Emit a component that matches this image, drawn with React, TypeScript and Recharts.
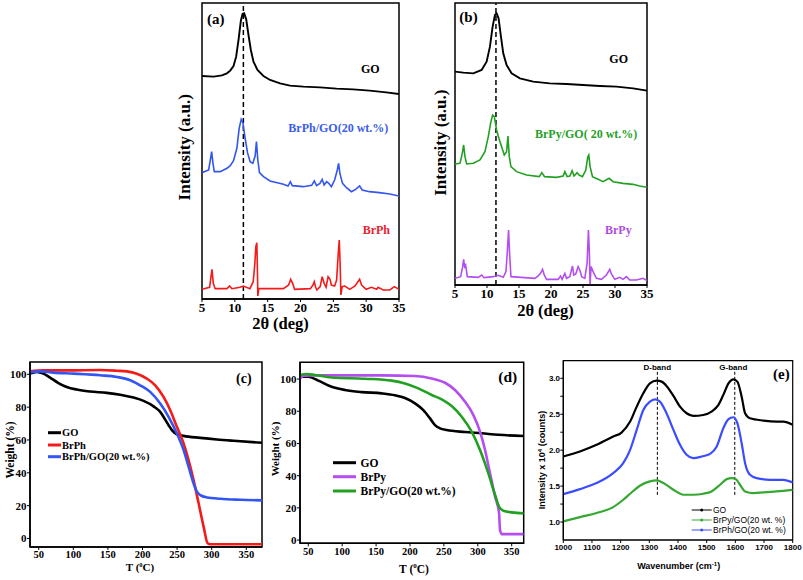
import React from 'react';
import { LineChart, Line, XAxis, YAxis, ReferenceLine, ReferenceArea } from 'recharts';

type P = [number, number];
const pts = (a: P[]) => a.map(([x, y]) => ({ x, y }));

const SERIF = '"Liberation Serif", "Times New Roman", serif';
const SANS = '"Liberation Sans", Arial, sans-serif';

// ---------- (a) XRD: GO, BrPh/GO, BrPh ----------
const xrdTicks = [5, 10, 15, 20, 25, 30, 35];
const aGO: P[] = [[5.0,669],[6.77,667],[8.03,671],[8.79,677],[9.3,685],[9.8,699],[10.2,727],[10.56,777],[10.92,835],[11.17,855],[11.42,857],[11.73,839],[12.08,792],[12.44,747],[12.84,712],[13.45,687],[14.36,669],[15.37,657],[16.89,647],[18.4,640],[20.43,637],[22.96,635],[25.49,631],[28.0,629],[30.54,625],[33.07,620],[35.0,615]];
const aBrPhGO: P[] = [[5.0,379],[6.01,387],[6.27,417],[6.47,442],[6.67,407],[6.87,382],[7.78,382],[8.8,392],[9.3,400],[9.8,415],[10.31,452],[10.66,512],[10.97,539],[11.22,529],[11.57,482],[11.93,439],[12.33,412],[12.74,407],[13.09,429],[13.29,472],[13.5,417],[13.75,379],[14.36,367],[15.37,354],[17.4,344],[18.1,339],[18.45,352],[18.75,340],[20.43,337],[21.7,341],[22.1,354],[22.45,340],[22.96,347],[23.3,359],[23.6,342],[23.97,352],[24.3,347],[24.7,337],[25.2,357],[25.6,387],[25.8,407],[26.0,377],[26.4,347],[27.0,334],[27.76,322],[28.4,329],[29.0,339],[29.4,327],[30.5,322],[32.0,319],[33.6,315],[35.0,309]];
const aBrPh: P[] = [[5.0,29],[6.16,35],[6.37,67],[6.52,89],[6.72,47],[7.0,31],[8.8,31],[9.2,39],[9.55,31],[10.8,35],[11.3,39],[12.3,31],[12.8,52],[13.05,107],[13.2,157],[13.35,169],[13.45,77],[13.5,9],[13.65,31],[17.4,31],[18.2,42],[18.5,59],[18.8,47],[19.1,29],[21.5,31],[21.9,42],[22.1,52],[22.3,35],[22.5,27],[23.0,37],[23.3,67],[23.6,47],[23.9,35],[24.2,67],[24.5,59],[24.7,42],[25.2,39],[25.5,57],[25.75,137],[25.9,177],[26.05,97],[26.15,12],[26.35,37],[26.75,39],[27.5,29],[28.3,39],[29.0,59],[29.3,42],[30.0,29],[30.8,35],[31.6,29],[31.8,35],[32.6,27],[33.6,27],[34.3,37],[35.0,29]];

// ---------- (b) XRD: GO, BrPy/GO, BrPy ----------
const bGO: P[] = [[5.0,640],[6.3,637],[7.86,635],[9.16,645],[9.94,670],[10.46,715],[10.88,775],[11.24,810],[11.5,815],[11.81,800],[12.18,745],[12.54,695],[13.06,660],[13.84,635],[15.14,620],[17.22,610],[19.82,605],[22.42,603],[25.02,600],[27.62,597],[30.22,595],[32.82,590],[35.0,583]];
const bBrPyGO: P[] = [[5.0,363],[5.78,365],[6.14,395],[6.35,420],[6.56,385],[6.82,363],[7.86,365],[8.9,375],[9.68,400],[10.2,445],[10.56,485],[10.88,510],[11.14,505],[11.5,465],[11.86,440],[12.28,415],[12.7,390],[13.06,400],[13.27,447],[13.48,385],[13.74,355],[14.62,340],[16.18,330],[18.16,325],[18.57,337],[18.99,325],[20.86,323],[21.9,327],[22.16,340],[22.52,325],[22.94,327],[23.3,343],[23.6,327],[24.08,337],[24.4,330],[24.92,325],[25.44,345],[25.75,385],[25.9,390],[26.11,355],[26.48,325],[27.36,317],[28.14,310],[29.08,320],[29.7,310],[31.26,305],[32.82,302],[33.86,297],[35.0,293]];
const bBrPy: P[] = [[5.0,20],[5.88,25],[6.2,55],[6.35,77],[6.5,55],[6.66,60],[6.92,25],[8.64,23],[9.16,30],[9.52,22],[10.98,25],[11.76,29],[12.54,23],[12.96,40],[13.16,95],[13.37,165],[13.53,95],[13.74,25],[17.48,20],[18.0,27],[18.36,35],[18.68,47],[18.94,30],[19.3,17],[21.12,17],[21.48,27],[21.74,17],[22.16,35],[22.42,20],[22.94,25],[23.36,57],[23.56,30],[23.87,33],[24.24,55],[24.5,45],[24.8,25],[25.28,20],[25.64,65],[25.85,165],[26.0,95],[26.1,0],[26.26,55],[26.58,40],[27.1,20],[27.88,17],[28.66,30],[29.18,47],[29.44,33],[29.96,17],[30.74,23],[31.26,17],[31.78,25],[32.3,15],[33.34,15],[34.38,20],[35.0,13]];

// ---------- (c) TGA: GO, BrPh, BrPh/GO ----------
const tgaTicks = [50, 100, 150, 200, 250, 300, 350];
const wTicks = [0, 20, 40, 60, 80, 100];
const cGO: P[] = [[37.5,100.4],[47,101.4],[56.8,100.4],[66.4,98],[78.5,94.7],[90.5,92.3],[105,90.7],[124.3,89.5],[148.4,88.7],[167.7,87.6],[187,85.8],[201.5,83.8],[216,80.5],[225.6,77.1],[232.8,72.4],[237.7,69],[242.5,66],[249.7,63.5],[259.4,62.5],[283.5,61.3],[307.6,60.3],[331.7,59.5],[372.7,58.3]];
const cBrPh: P[] = [[37.5,101.8],[56.8,102.4],[90.5,102.4],[138.8,102.6],[162.9,102.2],[177.4,101.8],[191.8,100.4],[206.3,97.4],[218.4,93.3],[230.4,86.2],[240.1,78.1],[249.7,68],[259.4,57.9],[266.6,47.7],[273.8,35.6],[281.1,21.4],[288.3,7.2],[294.1,-2.9],[298,-3.5],[331.7,-3.5],[372.7,-3.5]];
const cBrPhGO: P[] = [[37.5,101.2],[52,101.8],[71.2,101],[100.2,100.4],[138.8,99.4],[162.9,98.4],[182.2,96.4],[196.6,93.3],[211.1,89.3],[225.6,82.2],[237.7,74.1],[249.7,63.9],[259.4,53.8],[266.6,43.7],[273.8,33.5],[278.6,28.5],[283.5,26.4],[293.1,25],[312.4,24.2],[341.4,23.6],[372.7,23.2]];

// ---------- (d) TGA: GO, BrPy, BrPy/GO ----------
const dGO: P[] = [[37.7,101.4],[50,101.4],[64.8,99],[84.4,95.2],[104.1,93.2],[128.7,91.9],[158.2,91.1],[177.9,89.9],[192.6,88.2],[207.4,84.9],[219.7,80.7],[229.5,75.6],[236.9,71.4],[244.3,69.4],[254.1,68.3],[281.2,67.1],[305.8,66.3],[330.4,65.4],[367.8,64.6]];
const dBrPy: P[] = [[37.7,100.2],[42.6,102],[54.9,102.3],[109,102.3],[158.2,102.3],[207.4,101.9],[232,100.4],[251.7,97.7],[266.4,93.2],[281.2,85.9],[293.5,77.6],[303.3,67.3],[310.7,55.9],[318.1,41.4],[325.5,26.9],[331.4,16.6],[332.8,6.2],[335.3,3.7],[367.8,3.7]];
const dBrPyGO: P[] = [[37.7,102.5],[47.5,103.1],[59.8,102.5],[84.4,101],[133.6,100.2],[173,99],[192.6,97.3],[212.3,94.2],[232,90.1],[246.8,87.4],[261.5,83.2],[276.3,76.6],[291,67.3],[303.3,55.9],[315.6,41.4],[325.5,28],[331.4,20.7],[337.8,18.2],[350.1,17.2],[367.8,16.6]];

// ---------- (e) Raman: GO, BrPy/GO, BrPh/GO ----------
const wnTicks = [1000, 1100, 1200, 1300, 1400, 1500, 1600, 1700, 1800];
const iTicks = [1, 1.25, 1.5, 1.75, 2, 2.25, 2.5, 2.75, 3];
const eGO: P[] = [[1000,1.912],[1058,1.981],[1116,2.074],[1174,2.19],[1203,2.245],[1233,2.398],[1256,2.606],[1279,2.792],[1302,2.93],[1326,2.968],[1343,2.954],[1360,2.894],[1384,2.755],[1407,2.606],[1430,2.514],[1453,2.477],[1488,2.49],[1517,2.537],[1541,2.63],[1558,2.769],[1576,2.93],[1593,2.986],[1607,2.954],[1622,2.745],[1634,2.514],[1651,2.444],[1698,2.412],[1744,2.398],[1767,2.398],[1800,2.352]];
const eBrPhGO: P[] = [[1000,1.389],[1058,1.458],[1116,1.542],[1174,1.681],[1209,1.819],[1233,2.005],[1256,2.282],[1279,2.56],[1302,2.676],[1320,2.708],[1337,2.676],[1360,2.514],[1384,2.282],[1407,2.074],[1430,1.935],[1453,1.889],[1483,1.912],[1512,1.949],[1535,2.051],[1558,2.306],[1576,2.431],[1593,2.458],[1607,2.375],[1622,2.097],[1634,1.819],[1651,1.657],[1674,1.611],[1721,1.588],[1767,1.588],[1800,1.551]];
const eBrPyGO: P[] = [[1000,1.009],[1058,1.069],[1116,1.125],[1174,1.208],[1209,1.31],[1233,1.394],[1267,1.505],[1302,1.565],[1326,1.579],[1349,1.542],[1384,1.449],[1419,1.38],[1453,1.38],[1488,1.394],[1517,1.426],[1547,1.519],[1570,1.597],[1587,1.611],[1602,1.597],[1616,1.519],[1634,1.426],[1663,1.403],[1698,1.412],[1744,1.426],[1800,1.449]];
const dBand = 1328;
const gBand = 1598;

const BLACK = '#000000';
const BLUE = '#3355f2';
const RED = '#f51a1a';
const GREEN = '#22a022';
const VIOLET = '#b44ef0';

const frame = { fill: 'none', stroke: '#000', strokeWidth: 1.5, fillOpacity: 0, ifOverflow: 'visible' as const };

function serifTick(size: number) {
  return { fontFamily: SERIF, fontWeight: 'bold', fontSize: size, fill: '#000' };
}

const abs = (left: number, top: number): React.CSSProperties => ({ position: 'absolute', left, top });

function XrdPanel(props: {
  left: number; width: number; height: number; margin: any; ymax: number; dash: number;
  series: { data: P[]; color: string; w: number }[];
}) {
  const { left, width, height, margin, ymax, dash, series } = props;
  return (
    <div style={abs(left, 0)}>
      <LineChart width={width} height={height} margin={margin}>
        <XAxis type="number" dataKey="x" domain={[5, 35]} ticks={xrdTicks} allowDataOverflow
          tick={serifTick(13)} tickSize={3} tickMargin={1} height={30}
          axisLine={{ stroke: '#000', strokeWidth: 1.5 }} tickLine={{ stroke: '#000' }} />
        <YAxis type="number" domain={[0, ymax]} allowDataOverflow hide />
        <ReferenceArea x1={5} x2={35} y1={0} y2={ymax} {...frame} />
        <ReferenceLine x={dash} stroke="#000" strokeWidth={1.5} strokeDasharray="5 3" />
        {series.map((s, i) => (
          <Line key={i} data={pts(s.data)} dataKey="y" type="linear" stroke={s.color} strokeWidth={s.w}
            dot={false} isAnimationActive={false} />
        ))}
      </LineChart>
    </div>
  );
}

function TgaPanel(props: {
  left: number; width: number; margin: any; xdom: [number, number]; ydom: [number, number]; ywidth: number;
  series: { data: P[]; color: string }[];
}) {
  const { left, width, margin, xdom, ydom, ywidth, series } = props;
  return (
    <div style={abs(left, 340)}>
      <LineChart width={width} height={240} margin={margin}>
        <XAxis type="number" dataKey="x" domain={xdom} ticks={tgaTicks} allowDataOverflow
          tick={serifTick(10.5)} tickSize={3} tickMargin={1} height={20}
          axisLine={{ stroke: '#000', strokeWidth: 1.5 }} tickLine={{ stroke: '#000' }} />
        <YAxis type="number" domain={ydom} ticks={wTicks} allowDataOverflow width={ywidth}
          tick={serifTick(11)} tickSize={3} tickMargin={0.5}
          axisLine={{ stroke: '#000', strokeWidth: 1.5 }} tickLine={{ stroke: '#000' }} />
        <ReferenceArea x1={xdom[0]} x2={xdom[1]} y1={ydom[0]} y2={ydom[1]} {...frame} />
        {series.map((s, i) => (
          <Line key={i} data={pts(s.data)} dataKey="y" type="monotone" stroke={s.color} strokeWidth={2.6}
            dot={false} isAnimationActive={false} />
        ))}
      </LineChart>
    </div>
  );
}

function RamanPanel() {
  const xdom: [number, number] = [1000, 1800];
  const ydom: [number, number] = [0.75, 3.245];
  const tick = { fontFamily: SANS, fontWeight: 'bold', fontSize: 8, fill: '#000' };
  return (
    <div style={abs(530, 340)}>
      <LineChart width={273} height={240} margin={{ top: 20.7, right: 10.3, bottom: 20, left: 0.3 }}>
        <XAxis type="number" dataKey="x" domain={xdom} ticks={wnTicks} allowDataOverflow
          tick={tick} tickSize={3} tickMargin={1.5} height={20}
          axisLine={{ stroke: '#000', strokeWidth: 1.2 }} tickLine={{ stroke: '#000' }} />
        <YAxis type="number" domain={ydom} ticks={iTicks} allowDataOverflow width={33}
          tickFormatter={(v: number) => (Math.abs(v * 2 - Math.round(v * 2)) < 1e-6 ? v.toFixed(1) : '')}
          tick={tick} tickSize={3} tickMargin={0.3}
          axisLine={{ stroke: '#000', strokeWidth: 1.2 }} tickLine={{ stroke: '#000' }} />
        <ReferenceArea x1={xdom[0]} x2={xdom[1]} y1={ydom[0]} y2={ydom[1]} {...frame} strokeWidth={1.2} />
        <ReferenceLine segment={[{ x: dBand, y: 3.09 }, { x: dBand, y: 1.36 }]} stroke="#000" strokeWidth={1} strokeDasharray="3 2" />
        <ReferenceLine segment={[{ x: gBand, y: 3.09 }, { x: gBand, y: 1.36 }]} stroke="#000" strokeWidth={1} strokeDasharray="3 2" />
        <Line data={pts(eGO)} dataKey="y" type="monotone" stroke={BLACK} strokeWidth={2.2} dot={false} isAnimationActive={false} />
        <Line data={pts(eBrPhGO)} dataKey="y" type="monotone" stroke={'#3b4cff'} strokeWidth={2.2} dot={false} isAnimationActive={false} />
        <Line data={pts(eBrPyGO)} dataKey="y" type="monotone" stroke={'#35a832'} strokeWidth={2.2} dot={false} isAnimationActive={false} />
      </LineChart>
    </div>
  );
}

function Overlay() {
  const B = { fontFamily: SERIF, fontWeight: 'bold' as const };
  const S = { fontFamily: SANS };
  const legC = [
    { y: 432.7, c: BLACK, t: 'GO' },
    { y: 445, c: RED, t: 'BrPh' },
    { y: 456.7, c: BLUE, t: 'BrPh/GO(20 wt.%)' },
  ];
  const legD = [
    { y: 462.7, c: BLACK, t: 'GO' },
    { y: 476.7, c: VIOLET, t: 'BrPy' },
    { y: 491, c: GREEN, t: 'BrPy/GO(20 wt.%)' },
  ];
  const legE = [
    { y: 510, c: BLACK, t: 'GO' },
    { y: 520, c: '#35a832', t: 'BrPy/GO(20 wt. %)' },
    { y: 530, c: '#3b4cff', t: 'BrPh/GO(20 wt. %)' },
  ];
  return (
    <svg width={803} height={580} style={{ position: 'absolute', left: 0, top: 0, pointerEvents: 'none' }}>
      {/* (a) */}
      <text x={207} y={24} fontSize={15} {...B}>(a)</text>
      <text x={361} y={72.5} fontSize={12} {...B}>GO</text>
      <text x={288.3} y={131.5} fontSize={12} fill="#3a5ee8" {...B}>BrPh/GO(20 wt.%)</text>
      <text x={362.7} y={234} fontSize={12} fill="#ea2230" {...B}>BrPh</text>
      <text transform="translate(189.5,147.3) rotate(-90)" textAnchor="middle" fontSize={17} {...B}>Intensity (a.u.)</text>
      <text x={280.5} y={329} textAnchor="middle" fontSize={16.5} {...B}>2θ (deg)</text>
      {/* (b) */}
      <text x={459.3} y={22} fontSize={15} {...B}>(b)</text>
      <text x={609.3} y={62.5} fontSize={12} {...B}>GO</text>
      <text x={535} y={137.5} fontSize={12} fill="#27a027" {...B}>BrPy/GO( 20 wt.%)</text>
      <text x={605} y={233.5} fontSize={12} fill="#b04ce0" {...B}>BrPy</text>
      <text transform="translate(445.5,142.7) rotate(-90)" textAnchor="middle" fontSize={17} {...B}>Intensity (a.u.)</text>
      <text x={545.5} y={316} textAnchor="middle" fontSize={16.5} {...B}>2θ (deg)</text>
      {/* (c) */}
      <text x={236} y={383} fontSize={14} {...B}>(c)</text>
      <text transform="translate(14,450) rotate(-90)" textAnchor="middle" fontSize={11.5} {...B}>Weight (%)</text>
      <text x={140} y={571} textAnchor="middle" fontSize={11} {...B}>
        <tspan>T (</tspan><tspan dy={-4.5} fontSize={6.5}>0</tspan><tspan dy={4.5}>C)</tspan>
      </text>
      {legC.map((l, i) => (
        <g key={i}>
          <line x1={48} x2={61} y1={l.y} y2={l.y} stroke={l.c} strokeWidth={3} />
          <text x={62} y={l.y + 3.7} fontSize={10.5} {...B}>{l.t}</text>
        </g>
      ))}
      {/* (d) */}
      <text x={498.3} y={382} fontSize={15.5} {...B}>(d)</text>
      <text transform="translate(279,449) rotate(-90)" textAnchor="middle" fontSize={11} {...B}>Weight (%)</text>
      <text x={414} y={572.5} textAnchor="middle" fontSize={11.5} {...B}>
        <tspan>T (</tspan><tspan dy={-5} fontSize={7}>0</tspan><tspan dy={5}>C)</tspan>
      </text>
      {legD.map((l, i) => (
        <g key={i}>
          <line x1={333} x2={356} y1={l.y} y2={l.y} stroke={l.c} strokeWidth={3} />
          <text x={360.5} y={l.y + 4} fontSize={11.5} {...B}>{l.t}</text>
        </g>
      ))}
      {/* (e) */}
      <text x={773} y={379} fontSize={15} {...B}>(e)</text>
      <text x={657.3} y={369.5} textAnchor="middle" fontSize={8} fontWeight="bold" {...S}>D-band</text>
      <text x={733.3} y={369.5} textAnchor="middle" fontSize={8} fontWeight="bold" {...S}>G-band</text>
      <text transform="translate(545,460) rotate(-90)" textAnchor="middle" fontSize={9} fontWeight="bold" {...S}>
        <tspan>Intensity x 10</tspan><tspan dy={-3.5} fontSize={6}>4</tspan><tspan dy={3.5}> (counts)</tspan>
      </text>
      <text x={678.7} y={569} textAnchor="middle" fontSize={9} fontWeight="bold" {...S}>
        <tspan>Wavenumber (cm</tspan><tspan dy={-3.5} fontSize={6}>-1</tspan><tspan dy={3.5}>)</tspan>
      </text>
      {legE.map((l, i) => (
        <g key={i}>
          <line x1={691.7} x2={711.7} y1={l.y} y2={l.y} stroke={l.c} strokeWidth={1} />
          <circle cx={701.7} cy={l.y} r={1.5} fill={l.c} />
          <text x={713} y={l.y + 3} fontSize={8.5} {...S}>{l.t}</text>
        </g>
      ))}
    </svg>
  );
}

export default function App() {
  return (
    <div style={{ position: 'absolute', left: 0, top: 0, width: 803, height: 580, background: '#fff', overflow: 'hidden' }}>
      <XrdPanel left={170} width={240} height={340} margin={{ top: 3, right: 11, bottom: 11, left: 32 }}
        ymax={888} dash={11.3}
        series={[{ data: aGO, color: BLACK, w: 1.9 }, { data: aBrPhGO, color: BLUE, w: 1.6 }, { data: aBrPh, color: RED, w: 1.6 }]} />
      <XrdPanel left={420} width={240} height={330} margin={{ top: 3, right: 13, bottom: 15, left: 35 }}
        ymax={846} dash={11.4}
        series={[{ data: bGO, color: BLACK, w: 1.9 }, { data: bBrPyGO, color: GREEN, w: 1.6 }, { data: bBrPy, color: VIOLET, w: 1.6 }]} />
      <TgaPanel left={0} width={275} margin={{ top: 22, right: 13, bottom: 13, left: 0 }}
        xdom={[37.4, 372.7]} ydom={[-5.2, 107.5]} ywidth={30}
        series={[{ data: cGO, color: BLACK }, { data: cBrPh, color: RED }, { data: cBrPhGO, color: BLUE }]} />
      <TgaPanel left={265} width={270} margin={{ top: 22.3, right: 11.3, bottom: 16.7, left: 5 }}
        xdom={[37.8, 367.7]} ydom={[-2, 110.4]} ywidth={30}
        series={[{ data: dGO, color: BLACK }, { data: dBrPy, color: VIOLET }, { data: dBrPyGO, color: GREEN }]} />
      <RamanPanel />
      <Overlay />
    </div>
  );
}
